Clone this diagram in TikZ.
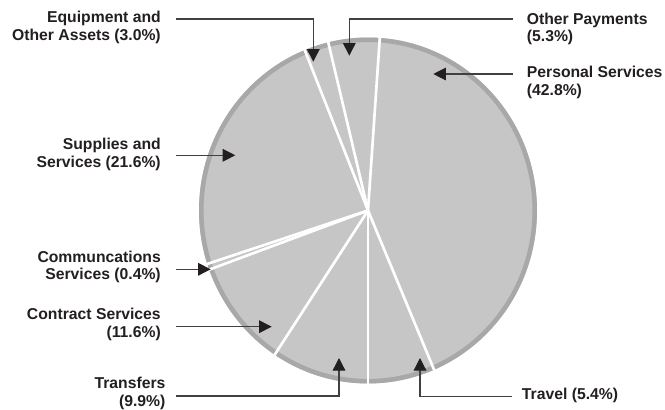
\documentclass[tikz,border=0pt]{standalone}
\usepackage{fontspec}
\setmainfont{Liberation Sans}
\usetikzlibrary{arrows.meta}

\definecolor{piefill}{HTML}{C6C6C6}
\definecolor{pieedge}{HTML}{A8A8A8}
\definecolor{labeltext}{HTML}{231F20}

\begin{document}
\begin{tikzpicture}[x=0.75pt,y=0.75pt,font=\bfseries\fontsize{11.8}{13.3}\selectfont,
    leftlabel/.style={align=right, anchor=north east, inner ysep=0pt, inner xsep=11pt, text=labeltext},
    rightlabel/.style={align=left, anchor=north west, inner ysep=0pt, inner xsep=10pt, text=labeltext},
    pointer/.style={draw=black!75, line width=0.9pt, -{Triangle[length=9.5pt,width=9.5pt,color=labeltext]}},
    divider/.style={draw=white, line width=2pt}]

      \useasboundingbox (0,0) rectangle (665,410);
   %   \draw[help lines] (0,0) grid (665,410);

      \coordinate (centre) at (368,199.5);
      \fill[piefill] (centre) ellipse (169 and 173);
      \draw[pieedge, line width=3.4pt] (centre) ellipse (166.7 and 170.7);

      \draw[divider] (centre) -- ++(86:171 and 175);
      \draw[divider] (centre) -- ++(103.6:171 and 175);
      \draw[divider] (centre) -- ++(112:171 and 175);
      \draw[divider] (centre) -- ++(198:171 and 175);
      \draw[divider] (centre) -- ++(200:171 and 175);
      \draw[divider] (centre) -- ++(236.5:171 and 175);
      \draw[divider] (centre) -- ++(270:171 and 175);
      \draw[divider] (centre) -- ++(293:171 and 175);

      \coordinate (equip-tip) at (313.3,348.3);
      \coordinate (other-tip) at (349.3,354.3);
      \coordinate (personal-tip) at (433.3,336);
      \coordinate (supplies-tip) at (235.3,254.7);
      \coordinate (comm-tip) at (210.7,140.7);
      \coordinate (contract-tip) at (271.7,83.3);
      \coordinate (transfers-tip) at (339,52);
      \coordinate (travel-tip) at (420,52);

      \node [leftlabel] (equip) at (175.7,399.3) {Equipment and\\Other Assets (3.0\%)};
      \node [leftlabel] (supplies) at (175.7,272.3) {Supplies and\\Services (21.6\%)};
      \node [leftlabel] (comm) at (175.7,159.6) {Communcations\\Services (0.4\%)};
      \node [leftlabel] (contract) at (175.7,102.3) {Contract Services\\(11.6\%)};
      \node [leftlabel, inner xsep=7.5pt] (transfers) at (175.7,33) {Transfers\\(9.9\%)};

      \node [rightlabel] (other) at (513.3,397.5) {Other Payments\\(5.3\%)};
      \node [rightlabel] (personal) at (513.3,344.3) {Personal Services\\(42.8\%)};
      \node [rightlabel, inner xsep=7.5pt] (travel) at (511.7,22.3) {Travel (5.4\%)};

      \draw[pointer] ([yshift=-6.2pt]equip.north east) -| (equip-tip);
      \draw[pointer] ([yshift=-4.9pt]other.north west) -| (other-tip);
      \draw[pointer] (personal.west |- personal-tip) -- (personal-tip);
      \draw[pointer] (supplies.east |- supplies-tip) -- (supplies-tip);
      \draw[pointer] (comm.east |- comm-tip) -- (comm-tip);
      \draw[pointer] (contract.east |- contract-tip) -- (contract-tip);
      \draw[pointer] ([yshift=-14.25pt]transfers.north east) -| (transfers-tip);
      \draw[pointer] ([yshift=-6.75pt]travel.north west) -| (travel-tip);

    \end{tikzpicture}
\end{document}
